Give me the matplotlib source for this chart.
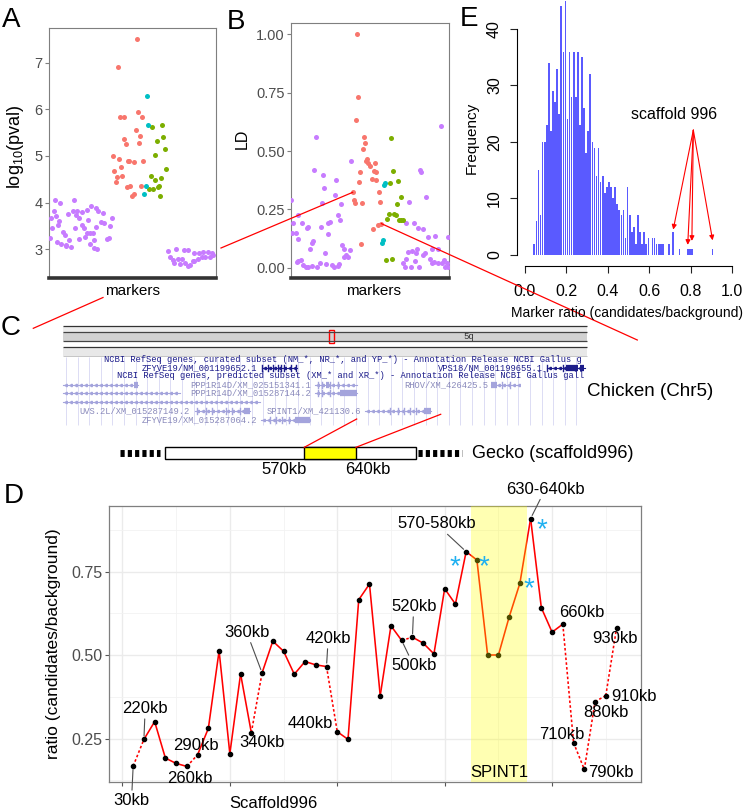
import numpy as np
import matplotlib
matplotlib.use('Agg')
import matplotlib.pyplot as plt

plt.rcParams['font.family'] = ['Liberation Sans', 'DejaVu Sans']
plt.rcParams['mathtext.fontset'] = 'custom'
plt.rcParams['mathtext.rm'] = 'Liberation Sans'
plt.rcParams['mathtext.it'] = 'Liberation Sans:italic'

RED, GREEN, CYAN, PURPLE = '#F8766D', '#7CAE00', '#00BFC4', '#C77CFF'

## Panel A: log10(pval) per marker (x = position in the strip, 0-1)
a_purple = [(.036, 4.05), (.068, 3.99), (.148, 4.06), (.030, 3.83), (.114, 3.75), (.142, 3.82),
            (.166, 3.83), (.196, 3.80), (.226, 3.84), (.254, 3.93), (.280, 3.88), (.296, 3.81),
            (.322, 3.78), (.042, 3.71), (.160, 3.74), (.178, 3.68), (.010, 3.67), (.062, 3.60),
            (.234, 3.62), (.310, 3.59), (.330, 3.57), (.380, 3.66), (.052, 3.51), (.016, 3.46),
            (.154, 3.45), (.200, 3.51), (.210, 3.45), (.280, 3.47), (.368, 3.49), (.086, 3.36),
            (.094, 3.31), (.226, 3.34), (.248, 3.34), (.264, 3.34), (.216, 3.27), (.348, 3.23),
            (.362, 3.24), (.008, 3.25), (.178, 3.23), (.268, 3.19), (.248, 3.12), (.048, 3.16),
            (.074, 3.11), (.102, 3.10), (.120, 3.19), (.100, 3.07), (.132, 3.04), (.272, 3.03),
            (.286, 3.01),
            (.716, 2.97), (.764, 3.00), (.808, 2.99), (.836, 2.99), (.872, 2.93), (.900, 2.91),
            (.926, 2.94), (.956, 2.95), (.976, 2.91), (.726, 2.83), (.746, 2.77), (.776, 2.79),
            (.796, 2.80), (.816, 2.70), (.846, 2.66), (.872, 2.74), (.896, 2.79), (.916, 2.83),
            (.936, 2.84), (.966, 2.84), (.986, 2.88), (.752, 2.70), (.786, 2.68), (.832, 2.64),
            (.866, 2.74)]
a_red = [(.526, 7.51), (.414, 6.91), (.534, 5.94), (.428, 5.84), (.450, 5.84), (.560, 5.84),
         (.520, 5.55), (.548, 5.43), (.452, 5.36), (.460, 5.26), (.540, 5.28), (.386, 4.99),
         (.420, 4.93), (.474, 4.90), (.482, 4.90), (.512, 4.88), (.566, 4.89), (.434, 4.76),
         (.392, 4.68), (.406, 4.54), (.440, 4.56), (.400, 4.45), (.466, 4.34), (.488, 4.36),
         (.552, 4.36), (.498, 4.15), (.508, 4.19)]
a_cyan = [(.586, 6.29), (.594, 5.66), (.580, 4.35), (.572, 4.19)]
a_green = [(.620, 5.63), (.680, 5.66), (.648, 5.33), (.686, 5.40), (.694, 5.14), (.638, 5.01),
           (.700, 4.71), (.614, 4.58), (.674, 4.53), (.634, 4.48), (.662, 4.36), (.654, 4.34),
           (.602, 4.29), (.622, 4.29), (.666, 4.15)]

## Panel B: LD per marker
b_purple = [(.156, .559), (.951, .607), (.148, .420), (.382, .457), (.203, .396), (.283, .374),
            (.209, .340), (.276, .310), (.000, .289), (.196, .279), (.316, .273), (.046, .224),
            (.295, .224), (.310, .203), (.011, .190), (.068, .193), (.232, .190), (.247, .194),
            (.188, .173), (.099, .170), (.110, .173), (.008, .150), (.030, .150), (.236, .146),
            (.042, .123), (.139, .116), (.131, .104), (.120, .081), (.321, .096), (.333, .081),
            (.373, .074), (.348, .053), (.363, .047), (.338, .047), (.215, .064), (.046, .030),
            (.061, .033), (.036, .024), (.078, .011), (.095, .004), (.110, .003), (.131, .009),
            (.167, .001), (.181, .021), (.222, .016), (.257, .010), (.272, .004), (.295, .007),
            (.304, .014),
            (.814, .417), (.823, .411), (.857, .304), (.749, .281), (.730, .190), (.776, .190),
            (.806, .171), (.838, .164), (.865, .133), (.911, .136), (.993, .133), (.890, .081),
            (.932, .081), (.795, .079), (.768, .071), (.743, .066), (.848, .064), (.835, .054),
            (.789, .061), (.730, .036), (.783, .030), (.882, .036), (.903, .023), (.932, .021),
            (.954, .019), (.970, .033), (.987, .019), (.711, .019), (.722, .004), (.759, .004),
            (.812, .004), (.890, .019), (.975, .001), (.992, .004)]
b_red = [(.416, 1.000), (.422, .730), (.409, .633), (.462, .560), (.468, .533), (.456, .510),
         (.481, .464), (.489, .447), (.502, .436), (.477, .456), (.530, .450), (.437, .411),
         (.523, .416), (.538, .410), (.511, .381), (.536, .377), (.428, .366), (.390, .323),
         (.557, .326), (.397, .289), (.405, .279), (.451, .277), (.563, .281), (.553, .181),
         (.572, .189), (.517, .166), (.443, .101)]
b_cyan = [(.597, .363), (.589, .353), (.582, .119), (.578, .104)]
b_green = [(.631, .557), (.643, .416), (.624, .363), (.677, .370), (.698, .303), (.671, .274),
           (.618, .229), (.654, .229), (.665, .224), (.610, .207), (.684, .204), (.696, .204),
           (.707, .204), (.603, .034), (.637, .037)]

## Panel E: histogram of marker ratio (bins of 0.01 starting at 0.04)
ratio_bin_left = np.round(np.arange(0.04, 0.905, 0.01), 2)
freq = [2, 6, 15, 7, 20, 20, 23, 34, 22, 29,
        27, 33, 25, 44, 36, 45, 24, 36, 28, 36,
        28, 36, 23, 35, 26, 18, 22, 32, 20, 19,
        14, 19, 13, 14, 11, 12, 13, 12, 10, 12,
        9, 8, 7, 8, 3, 12, 7, 4, 5, 2,
        7, 4, 2, 4, 2, 3, 0, 3, 3, 2,
        2, 2, 2, 0, 0, 2, 0, 4, 0, 0,
        1, 0, 0, 0, 1, 1, 1, 0, 0, 0,
        0, 0, 0, 0, 0, 0, 1]
scaffold_bins = [0.71, 0.78, 0.80, 0.90]
scaffold_tip_y = [4.5, 1.8, 2.5, 2.6]

## Panel D: ratio along scaffold996 windows
ratio = [0.168, 0.248, 0.301, 0.192, 0.176, 0.167, 0.202, 0.281, 0.513, 0.205,
         0.444, 0.268, 0.447, 0.542, 0.512, 0.443, 0.481, 0.471, 0.466, 0.271,
         0.248, 0.666, 0.713, 0.379, 0.588, 0.544, 0.554, 0.536, 0.504, 0.699,
         0.653, 0.810, 0.785, 0.500, 0.500, 0.614, 0.715, 0.909, 0.642, 0.569,
         0.593, 0.238, 0.158, 0.361, 0.379, 0.581]
dotted_after = [0, 5, 11, 18, 25, 40, 41, 42, 43, 44]
# (window index, label, offset x pt, offset y pt, leader line)
win_labels = [(0, '30kb', -1.2, -24.7, True), (1, '220kb', 0.9, 22.1, True),
              (5, '260kb', 1.9, -8.9, False), (6, '290kb', -1.2, 6.7, False),
              (11, '340kb', 7.5, -7.2, False), (12, '360kb', -11.0, 29.2, True),
              (18, '420kb', 1.2, 20.2, True), (19, '440kb', -19.2, 6.0, False),
              (25, '500kb', 8.6, -18.0, True), (26, '520kb', 0.9, 22.0, True),
              (31, '570-580kb', -21.4, 19.9, True), (37, '630-640kb', 10.6, 21.2, True),
              (40, '660kb', 13.5, 8.4, False), (41, '710kb', -8.6, 6.0, False),
              (42, '790kb', 19.4, -2.4, False), (43, '880kb', 7.5, -8.1, False),
              (44, '910kb', 20.2, -0.9, False), (45, '930kb', -1.4, -7.7, False)]
star_windows = [(31, -8.4, -16.3), (32, 4.8, -10.3), (36, 6.7, -9.4), (37, 8.1, -13.4)]
spint1_span = (32.44, 37.67)

W, H = 749, 811
fig = plt.figure(figsize=(W / 100, H / 100), dpi=100)


def pbox(l, t, r, b):
    return [l / W, 1 - b / H, (r - l) / W, (b - t) / H]


def strip_axes(box, ylim, yticks, yticklabels):
    ax = fig.add_axes(pbox(*box))
    ax.set_xlim(0, 1)
    ax.set_ylim(*ylim)
    ax.set_xticks([])
    ax.set_yticks(yticks)
    ax.set_yticklabels(yticklabels)
    for s in ['left', 'right', 'top']:
        ax.spines[s].set_color('#7f7f7f')
        ax.spines[s].set_linewidth(0.8)
    ax.spines['bottom'].set_color('#333333')
    ax.spines['bottom'].set_linewidth(2.6)
    ax.tick_params(axis='y', length=3, width=0.8, color='#7f7f7f', labelsize=10.5,
                   labelcolor='#4d4d4d', pad=1.5)
    return ax


def scatter_groups(ax, groups):
    for pts, col in groups:
        pts = np.array(pts)
        ax.scatter(pts[:, 0], pts[:, 1], s=13, color=col, linewidths=0, zorder=3)


# overlay in pixel units for texts and connectors
ov = fig.add_axes([0, 0, 1, 1])
ov.set_xlim(0, W)
ov.set_ylim(H, 0)
ov.axis('off')
ov.set_zorder(5)

# ---- A ----
axA = strip_axes((49, 28.3, 215.7, 278), (2.385, 7.735), [3, 4, 5, 6, 7], ['3', '4', '5', '6', '7'])
scatter_groups(axA, [(a_purple, PURPLE), (a_red, RED), (a_green, GREEN), (a_cyan, CYAN)])
ov.text(16, 147, r'log$_{10}$(pval)', rotation=90, ha='center', va='center', fontsize=13)
ov.text(133, 291, 'markers', ha='center', va='center', fontsize=11)

# ---- B ----
axB = strip_axes((291, 23.3, 449, 278.3), (-0.0454, 1.0476), [0, .25, .5, .75, 1],
                 ['0.00', '0.25', '0.50', '0.75', '1.00'])
scatter_groups(axB, [(b_purple, PURPLE), (b_red, RED), (b_green, GREEN), (b_cyan, CYAN)])
ov.text(242, 139, 'LD', rotation=90, ha='center', va='center', fontsize=11.5)
ov.text(374, 291, 'markers', ha='center', va='center', fontsize=11)

# ---- E ----
axE = fig.add_axes(pbox(525, 29, 732.3, 255))
axE.bar(ratio_bin_left + 0.005, freq, width=0.008, color='#5a5aff', linewidth=0, clip_on=False)
axE.set_xlim(0, 1)
axE.set_ylim(0, 40)
for s in ['top', 'right']:
    axE.spines[s].set_visible(False)
axE.spines['left'].set_position(('outward', 5.5))
axE.spines['bottom'].set_position(('outward', 7.7))
axE.spines['left'].set_bounds(0, 40)
axE.spines['bottom'].set_bounds(0, 1)
axE.set_xticks(np.linspace(0, 1, 6))
axE.set_xticklabels(['0.0', '0.2', '0.4', '0.6', '0.8', '1.0'])
axE.set_yticks([0, 10, 20, 30, 40])
axE.tick_params(length=5, width=0.8, labelsize=11.5, color='#222222')
axE.tick_params(axis='x', pad=8.5)
axE.tick_params(axis='y', pad=6)
plt.setp(axE.get_yticklabels(), rotation=90, va='center')
for xb, yt in zip(scaffold_bins, scaffold_tip_y):
    axE.annotate('', xy=(xb + 0.005, yt), xytext=(0.812, 22.1),
                 arrowprops=dict(arrowstyle='-|>', color='red', lw=0.8, mutation_scale=7,
                                 shrinkA=0, shrinkB=0), annotation_clip=False)
axE.text(0.72, 24.8, 'scaffold 996', ha='center', va='center', fontsize=11.5)
ov.text(471.7, 138.3, 'Frequency', rotation=90, ha='center', va='center', fontsize=11)
ov.text(627, 313.3, 'Marker ratio (candidates/background)', ha='center', va='center', fontsize=10)

# ---- D ----
axD = fig.add_axes(pbox(109, 506, 640.7, 782))
xw = np.arange(1, len(ratio) + 1)
yw = np.array(ratio)
for i in range(len(ratio) - 1):
    ls = (0, (1.6, 1.4)) if i in dotted_after else '-'
    axD.plot(xw[i:i + 2], yw[i:i + 2], color='red', lw=1.15, ls=ls, zorder=3)
axD.plot(xw, yw, 'o', color='black', ms=3, zorder=4)
axD.axvspan(*spint1_span, color='yellow', alpha=0.3, lw=0, zorder=5)
axD.set_xlim(-1.25, 48.25)
axD.set_ylim(0.1204, 0.9466)
axD.set_xticks([0, 10, 20, 30, 40])
axD.set_xticks([5, 15, 25, 35, 45], minor=True)
axD.set_xticklabels([])
axD.set_yticks([0.25, 0.5, 0.75])
axD.set_yticks([0.125, 0.375, 0.625, 0.875], minor=True)
axD.set_yticklabels(['0.25', '0.50', '0.75'])
axD.grid(True, which='major', color='#ebebeb', lw=1.0, zorder=0)
axD.grid(True, which='minor', color='#f2f2f2', lw=0.6, zorder=0)
axD.set_axisbelow(True)
axD.tick_params(which='major', length=3, width=0.8, color='#555555', labelsize=11.5,
                labelcolor='#4d4d4d', pad=2)
axD.tick_params(which='minor', length=0)
for s in axD.spines.values():
    s.set_color('#7f7f7f')
    s.set_linewidth(0.9)
for idx, lab, dx, dy, leader in win_labels:
    props = None
    if leader:
        props = dict(arrowstyle='-', color='#4d4d4d', lw=0.8, shrinkA=0, shrinkB=2.5)
    axD.annotate(lab, xy=(xw[idx], yw[idx]), xytext=(dx, dy), textcoords='offset points',
                 ha='center', va='center', fontsize=12, arrowprops=props,
                 annotation_clip=False, zorder=6)
for idx, dx, dy in star_windows:
    axD.annotate('*', xy=(xw[idx], yw[idx]), xytext=(dx, dy), textcoords='offset points',
                 ha='center', va='baseline', fontsize=20, color='#1fb0f0', zorder=6,
                 annotation_clip=False)
axD.text(np.mean(spint1_span), 0.15, 'SPINT1', ha='center', va='center', fontsize=12, zorder=6)
ov.text(54, 644, 'ratio (candidates/background)', rotation=90, ha='center', va='center', fontsize=12.5)
ov.text(273, 803, 'Scaffold996', ha='center', va='center', fontsize=12)

# ---- C: browser snapshot ----
x0c, x1c = 62.5, 587.3
ov.hlines(325.5, x0c, x1c, color='#333333', lw=0.9)
ov.fill_between([x0c, x1c], 326, 332, color='#ececec', lw=0)
ov.fill_between([x0c, x1c], 332, 340.7, color='#d2d2d2', lw=0)
ov.hlines([332, 340.7], x0c, x1c, color='#444444', lw=0.9)
ov.hlines(347, x0c, x1c, color='#333333', lw=0.9)
ov.fill_between([x0c, x1c], 347.5, 355.5, color='#e8e8e8', lw=0)
ov.hlines(356, x0c, x1c, color='#bbbbbb', lw=0.6)
ov.add_patch(plt.Rectangle((329.3, 329.5), 5, 13.5, fill=False, ec='red', lw=1))
ov.text(469, 336.5, '5q', fontsize=6.5, ha='center', va='center', family='Liberation Mono', color='#333333')
ov.vlines(np.arange(66, 588, 11.6), 357, 425, color='#dcdcf4', lw=0.7, zorder=0)
mono = dict(family='Liberation Mono', fontsize=6.35, va='center', ha='left')
dark, pale, glyph = '#1c1c8a', '#8a8abb', '#a4a4dc'
ov.text(104, 359.5, 'NCBI RefSeq genes, curated subset (NM_*, NR_*, and YP_*) - Annotation Release NCBI Gallus g',
        color=dark, **mono)
ov.text(141.7, 367.5, 'ZFYVE19/NM_001199652.1', color=dark, **mono)
ov.text(438, 367.5, 'VPS18/NM_001199655.1', color=dark, **mono)
ov.text(116.7, 376, 'NCBI RefSeq genes, predicted subset (XM_* and XR_*) - Annotation Release NCBI Gallus gall',
        color=dark, **mono)
ov.text(190, 384.5, 'PPP1R14D/XM_025151341.1', color=pale, **mono)
ov.text(404, 384.5, 'RHOV/XM_426425.5', color=pale, **mono)
ov.text(190, 393, 'PPP1R14D/XM_015287144.2', color=pale, **mono)
ov.text(79.3, 411, 'UVS.2L/XM_015287149.2', color=pale, **mono)
ov.text(266.7, 411, 'SPINT1/XM_421130.6', color=pale, **mono)
ov.text(141.7, 419.5, 'ZFYVE19/XM_015287064.2', color=pale, **mono)


def gene(xa, xb, y, col, exons=(), thick=()):
    ov.plot([xa, xb], [y, y], color=col, lw=0.8)
    ov.plot(np.arange(xa + 3, xb, 5), [y] * len(np.arange(xa + 3, xb, 5)), ls='none',
            marker=(3, 0, 90), ms=2.2, color=col)
    for e in exons:
        ov.plot([e, e], [y - 3, y + 3], color=col, lw=1)
    for a, b in thick:
        ov.plot([a, b], [y, y], color=col, lw=4.5, solid_capstyle='butt')


gene(261.7, 296.7, 367.5, dark, exons=(262, 268, 273, 278, 281, 284, 291, 296))
gene(546.7, 584.7, 367.5, dark, exons=(547, 563), thick=((566, 578), (580, 584)))
gene(62.7, 138.3, 384.5, glyph, thick=((134, 138.3),))
gene(315, 356.7, 384.5, glyph, exons=(318, 322, 330, 338), thick=((326, 329),))
gene(490.7, 519, 384.5, glyph, thick=((490.7, 497),), exons=(502, 510))
gene(62.7, 180, 393, glyph)
gene(315, 357, 393, glyph, exons=(318, 322, 330), thick=((340, 357),))
gene(62.7, 260, 401.5, glyph)
gene(195, 250, 411, glyph, exons=(197, 206, 212, 226, 232, 240), thick=((244, 250),))
gene(365, 431.3, 411, glyph, exons=(390, 398, 404, 410, 416), thick=((424, 431.3),))
gene(261, 310, 419.5, glyph, exons=(270, 276, 282, 289), thick=((295, 310),))
ov.text(587, 391, 'Chicken (Chr5)', ha='left', va='center', fontsize=13.5)

# gecko scaffold bar
ov.hlines(453.3, 120, 160, color='black', lw=5, linestyles=(0, (0.6, 0.45)))
ov.hlines(453.3, 418, 462, color='black', lw=5, linestyles=(0, (0.6, 0.45)))
ov.add_patch(plt.Rectangle((165, 447.3), 251, 12, fc='white', ec='black', lw=1))
ov.add_patch(plt.Rectangle((304.3, 447.3), 51.7, 12, fc='#ffff00', ec='black', lw=1))
ov.text(284, 470, '570kb', ha='center', va='center', fontsize=12)
ov.text(368.3, 470, '640kb', ha='center', va='center', fontsize=12)
ov.text(471.7, 453.3, 'Gecko (scaffold996)', ha='left', va='center', fontsize=13)

# connectors
def to_ov(ax, xy):
    return ov.transData.inverted().transform(ax.transData.transform(xy))


pb1 = to_ov(axB, b_red[17])
pb2 = to_ov(axB, b_red[24])
conn = [((221, 248), pb1), (pb2, (637.3, 340)), ((103, 297.5), (33.3, 328.3)),
        ((356.7, 419), (304.3, 447.3)), ((440.7, 414.3), (356, 447.3))]
for p, q in conn:
    ov.plot([p[0], q[0]], [p[1], q[1]], color='red', lw=0.9)

# panel letters
for lab, px, py in [('A', 11, 20), ('B', 236, 22), ('E', 469, 19), ('C', 11, 328), ('D', 14, 496)]:
    ov.text(px, py, lab, ha='center', va='center', fontsize=20)

fig.savefig('out.png', dpi=100)
